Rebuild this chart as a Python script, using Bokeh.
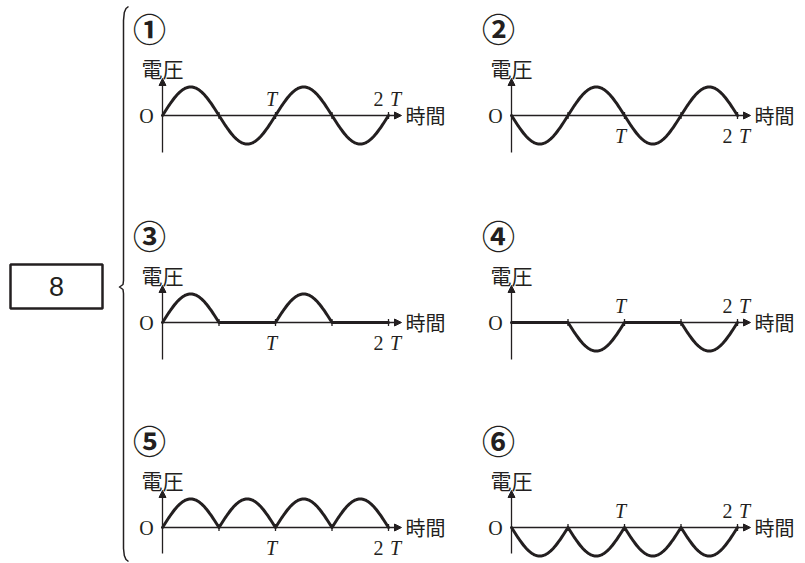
import numpy as np
from bokeh.plotting import figure
from bokeh.layouts import row, column
from bokeh.models import Range1d, Arrow, NormalHead
from bokeh.core.properties import value
from bokeh.embed import file_html
from bokeh.resources import INLINE

# ---------------- data ----------------
panel_labels = ["①", "②", "③", "④", "⑤", "⑥"]
# sign of each half cycle (T/2 long) over 0..2T : +1 up, -1 down, 0 flat
half_cycle_signs = [
    [1, -1, 1, -1],
    [-1, 1, -1, 1],
    [1, 0, 1, 0],
    [0, -1, 0, -1],
    [1, 1, 1, 1],
    [-1, -1, -1, -1],
]
period_ticks = [1, 2]                 # T, 2T
period_tick_numbers = ["", "2"]
period_symbol = "T"
period_label_side = ["above", "below", "below", "above", "below", "above"]
y_axis_label = "電圧"
x_axis_label = "時間"
origin_label = "O"
question_number = "8"

# ---------------- style / layout ----------------
INK = "#231f20"
CJK = "Noto Sans CJK JP"
SERIF = "Liberation Serif"
PX_T = 113.0      # pixels per period T
PX_A = 28.5       # pixels per unit amplitude
BASE = 115        # baseline distance from the top of each row
ROW_H = [207, 205, 151]
LEFT_W = 130
COL_W = [345, 330]
COL_L = [32, 36]
Y_AX_BOTTOM = [37, 37, 26]


def make_panel(i):
    r, c = divmod(i, 2)
    w, h, L = COL_W[c], ROW_H[r], COL_L[c]
    p = figure(width=w, height=h,
               x_range=Range1d(-L / PX_T, (w - L) / PX_T),
               y_range=Range1d((BASE - h) / PX_A, BASE / PX_A),
               output_backend="svg", toolbar_location=None,
               x_axis_type=None, y_axis_type=None,
               min_border=0, outline_line_color=None,
               background_fill_color="white", border_fill_color="white")

    # axes with arrow heads
    p.add_layout(Arrow(end=NormalHead(size=7, fill_color=INK, line_color=INK, line_width=1),
                       x_start=0, y_start=0, x_end=2 + 13 / PX_T, y_end=0,
                       line_color=INK, line_width=1.3))
    p.add_layout(Arrow(end=NormalHead(size=7, fill_color=INK, line_color=INK, line_width=1),
                       x_start=0, y_start=-Y_AX_BOTTOM[r] / PX_A, x_end=0, y_end=37 / PX_A,
                       line_color=INK, line_width=1.3))

    # small ticks at every half period
    tx = [0.5 * (k + 1) for k in range(4)]
    p.segment(x0=tx, x1=tx, y0=[-3.5 / PX_A] * 4, y1=[3.5 / PX_A] * 4,
              line_color=INK, line_width=1.3)

    # waveform
    s = np.linspace(0, 1, 60)
    xs, ys = [], []
    for k, sign in enumerate(half_cycle_signs[i]):
        xs.extend(list(0.5 * k + 0.5 * s))
        ys.extend(list(sign * np.sin(np.pi * s)))
    p.line(xs, ys, line_color=INK, line_width=3, line_join="round", line_cap="round")

    # panel number
    p.text(x=[0], y=[0], text=[panel_labels[i]], x_offset=-13, y_offset=-88,
           text_font=value(CJK), text_font_size="33px", text_font_style="bold",
           text_align="center", text_baseline="middle", text_color=INK)
    # axis labels
    p.text(x=[0], y=[0], text=[y_axis_label], x_offset=0, y_offset=-48,
           text_font=value(CJK), text_font_size="21px",
           text_align="center", text_baseline="middle", text_color=INK)
    p.text(x=[2], y=[0], text=[x_axis_label], x_offset=17, y_offset=0,
           text_font=value(CJK), text_font_size="20px",
           text_align="left", text_baseline="middle", text_color=INK)
    p.text(x=[0], y=[0], text=[origin_label], x_offset=-16, y_offset=0,
           text_font=value(SERIF), text_font_size="20px",
           text_align="center", text_baseline="middle", text_color=INK)

    # period labels
    dy = -17 if period_label_side[i] == "above" else 20
    for t, num in zip(period_ticks, period_tick_numbers):
        if num:
            p.text(x=[t], y=[0], text=[num], x_offset=-10, y_offset=dy,
                   text_font=value(SERIF), text_font_size="20px",
                   text_align="center", text_baseline="middle", text_color=INK)
            p.text(x=[t], y=[0], text=[period_symbol], x_offset=7, y_offset=dy,
                   text_font=value(SERIF), text_font_size="20px", text_font_style="italic",
                   text_align="center", text_baseline="middle", text_color=INK)
        else:
            p.text(x=[t], y=[0], text=[period_symbol], x_offset=-4, y_offset=dy,
                   text_font=value(SERIF), text_font_size="20px", text_font_style="italic",
                   text_align="center", text_baseline="middle", text_color=INK)
    return p


# left part: answer box and brace (page pixel coordinates)
TOTAL_H = sum(ROW_H)
left = figure(width=LEFT_W, height=TOTAL_H,
              x_range=Range1d(0, LEFT_W), y_range=Range1d(TOTAL_H, 0),
              output_backend="svg", toolbar_location=None,
              x_axis_type=None, y_axis_type=None,
              min_border=0, outline_line_color=None,
              background_fill_color="white", border_fill_color="white")
left.quad(left=[10], right=[102], top=[264], bottom=[308],
          fill_color="white", line_color=INK, line_width=2.5)
left.text(x=[56], y=[286], text=[question_number], text_font=value("Liberation Sans"),
          text_font_size="27px", text_align="center", text_baseline="middle", text_color=INK)
bx = [128, 125.5, 123.8, 123, 123, 122.5, 119, 122.5, 123, 123, 123.8, 125.5, 128]
by = [6, 8, 12, 20, 280, 284, 286.5, 289, 293, 548, 555, 559, 561]
left.line(bx, by, line_color=INK, line_width=1.5, line_join="round")

panels = [make_panel(i) for i in range(6)]
grid = column(row(panels[0], panels[1]), row(panels[2], panels[3]), row(panels[4], panels[5]))
layout = row(left, grid)

open("out.html", "w").write(file_html(layout, INLINE))
